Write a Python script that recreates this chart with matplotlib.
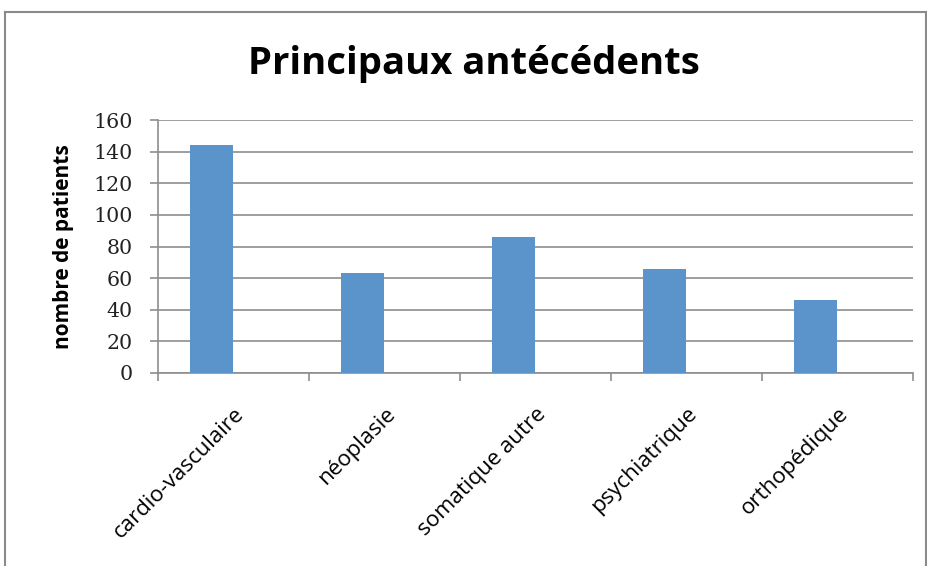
import matplotlib
matplotlib.use("Agg")
import matplotlib.pyplot as plt
import numpy as np
from matplotlib.lines import Line2D

categories = ["cardio-vasculaire", "néoplasie", "somatique autre", "psychiatrique", "orthopédique"]
values = [144, 63, 86, 66, 46]
yticks = [0, 20, 40, 60, 80, 100, 120, 140, 160]
title = "Principaux antécédents"
ylabel = "nombre de patients"

W, H = 928, 566
fig = plt.figure(figsize=(W / 100, H / 100), dpi=100)
ax = fig.add_axes([158 / W, 1 - 373 / H, (913 - 158) / W, (373 - 120) / H])

grid_c = "#8e8e8e"
bw = 0.285
x = np.arange(len(categories))
ax.bar(x - bw / 2, values, width=bw, color="#5b94ca", zorder=3)

ax.set_xlim(-0.5, len(categories) - 0.5)
ax.set_ylim(0, 160)
ax.set_yticks(yticks)
ax.set_yticklabels([str(v) for v in yticks], fontfamily="DejaVu Serif", fontsize=14.8, color="#222222")
ax.yaxis.grid(True, color=grid_c, linewidth=1.2, zorder=0)
ax.tick_params(axis="y", length=6, width=1.2, color=grid_c, pad=12)

ax.set_xticks(np.arange(-0.5, len(categories), 1))
ax.set_xticklabels([])
ax.tick_params(axis="x", which="major", length=6, width=1.2, color=grid_c)
ax.set_xticks(x, minor=True)
ax.set_xticklabels(categories, minor=True, rotation=45, ha="right", rotation_mode="anchor",
                   fontfamily="Open Sans", fontsize=16)
ax.tick_params(axis="x", which="minor", length=0, pad=22)

for s in ["top", "right"]:
    ax.spines[s].set_visible(False)
for s in ["left", "bottom"]:
    ax.spines[s].set_color(grid_c)
    ax.spines[s].set_linewidth(1.2)

ax.set_ylabel(ylabel, fontfamily="Open Sans", fontweight="bold", fontsize=15, labelpad=14)
fig.text(474 / W, 1 - 64 / H, title, ha="center", va="center",
         fontfamily="Open Sans", fontweight="bold", fontsize=27.5)

# chart frame
fc = "#8a8a8a"
fig.add_artist(Line2D([5 / W, 5 / W], [0, 1 - 12 / H], transform=fig.transFigure, color=fc, lw=1.5))
fig.add_artist(Line2D([5 / W, 926 / W], [1 - 12 / H, 1 - 12 / H], transform=fig.transFigure, color=fc, lw=1.5))
fig.add_artist(Line2D([926 / W, 926 / W], [0, 1 - 12 / H], transform=fig.transFigure, color=fc, lw=1.5))

fig.savefig("out.png", dpi=100)
